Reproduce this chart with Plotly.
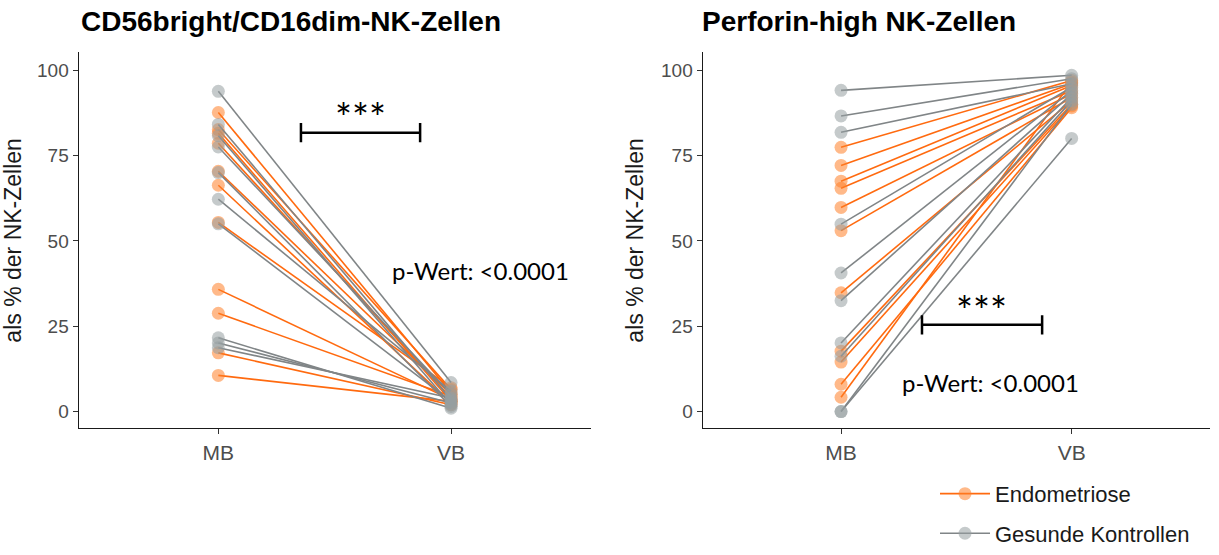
import plotly.graph_objects as go

# Paired measurements (MB -> VB), % of NK cells
categories = ["MB", "VB"]
group_names = ["Endometriose", "Gesunde Kontrollen"]

# CD56bright/CD16dim NK cells
cd56_endo_mb = [87.6, 82.6, 78.6, 70.4, 66.3, 55.4, 35.8, 28.8, 17.2, 10.6, 81.5]
cd56_endo_vb = [5.5, 6.5, 4.0, 5.0, 2.5, 7.0, 3.5, 4.5, 2.0, 3.0, 3.0]
cd56_ctrl_mb = [93.8, 84.1, 80.8, 77.5, 70.0, 62.2, 55.0, 21.6, 20.1, 18.7]
cd56_ctrl_vb = [8.5, 3.5, 2.0, 5.0, 1.5, 6.0, 3.0, 1.0, 2.5, 4.0]

# Perforin-high NK cells
perf_endo_mb = [77.4, 72.1, 67.5, 65.4, 59.8, 53.0, 34.8, 17.7, 14.5, 8.0, 4.2]
perf_endo_vb = [97.0, 96.0, 95.5, 94.0, 93.0, 92.0, 91.0, 90.0, 89.5, 89.0, 96.5]
perf_ctrl_mb = [94.1, 86.6, 81.8, 54.9, 40.6, 32.5, 20.1, 16.2, 0.0, 0.0]
perf_ctrl_vb = [98.5, 97.5, 96.0, 95.0, 94.0, 93.0, 92.0, 91.0, 80.0, 90.0]

y_ticks = [0, 25, 50, 75, 100]
panel_titles = ["CD56bright/CD16dim-NK-Zellen", "Perforin-high NK-Zellen"]
y_title = "als % der NK-Zellen"
sig_label = "***"
p_label = "p-Wert: <0.0001"

ORANGE_LINE = "#FF6A0F"
ORANGE_PT = "rgba(255,128,40,0.55)"
GRAY_LINE = "#808587"
GRAY_PT = "rgba(150,158,160,0.55)"


def paired(mb, vb):
    xs, ys = [], []
    for a, b in zip(mb, vb):
        xs += [1, 2, None]
        ys += [a, b, None]
    return xs, ys


fig = go.Figure()

panels = [
    ("x", "y", cd56_endo_mb, cd56_endo_vb, cd56_ctrl_mb, cd56_ctrl_vb, True),
    ("x2", "y2", perf_endo_mb, perf_endo_vb, perf_ctrl_mb, perf_ctrl_vb, False),
]
for xa, ya, emb, evb, cmb, cvb, show in panels:
    for name, mb, vb, lc, pc in [
        (group_names[0], emb, evb, ORANGE_LINE, ORANGE_PT),
        (group_names[1], cmb, cvb, GRAY_LINE, GRAY_PT),
    ]:
        xs, ys = paired(mb, vb)
        fig.add_trace(go.Scatter(
            x=xs, y=ys, xaxis=xa, yaxis=ya, mode="lines+markers",
            name=name, legendgroup=name, showlegend=show,
            line=dict(color=lc, width=1.6),
            marker=dict(color=pc, size=13, line=dict(width=0)),
            connectgaps=False, hoverinfo="skip",
        ))

FONT = "Liberation Sans, Arial"
xcommon = dict(range=[0.4, 2.6], tickvals=[1, 2], ticktext=categories,
               showline=True, linecolor="#1a1a1a", linewidth=1.3,
               ticks="outside", ticklen=5, tickcolor="#333333",
               tickfont=dict(family=FONT, size=21, color="#4D4D4D"),
               showgrid=False, zeroline=False, fixedrange=True)
ycommon = dict(range=[-4.9, 105.2], tickvals=y_ticks,
               showline=True, linecolor="#1a1a1a", linewidth=1.3,
               ticks="outside", ticklen=5, tickcolor="#333333",
               tickfont=dict(family=FONT, size=19, color="#4D4D4D"),
               showgrid=False, zeroline=False,
               title=dict(text=y_title, font=dict(family=FONT, size=23, color="#1a1a1a"),
                          standoff=10))

W, H = 1219, 555
fig.update_layout(
    width=W, height=H,
    margin=dict(l=0, r=0, t=0, b=0),
    paper_bgcolor="white", plot_bgcolor="white",
    xaxis=dict(domain=[78.7 / W, 590.7 / W], anchor="y", **xcommon),
    yaxis=dict(domain=[1 - 433 / H, 1 - 53 / H], anchor="x", **ycommon),
    xaxis2=dict(domain=[702.7 / W, 1210 / W], anchor="y2", **xcommon),
    yaxis2=dict(domain=[1 - 433 / H, 1 - 53 / H], anchor="x2", **ycommon),
    legend=dict(x=935 / W, y=1 - 478 / H, xanchor="left", yanchor="top",
                font=dict(family=FONT, size=22, color="#1a1a1a"),
                tracegroupgap=8, bgcolor="rgba(0,0,0,0)", itemwidth=50),
    showlegend=True,
)

# panel titles
for i, t in enumerate(panel_titles):
    x0 = [78.7, 700][i] / W
    fig.add_annotation(text=f"<b>{t}</b>", xref="paper", yref="paper", x=x0, y=1 - 22 / H,
                       xanchor="left", yanchor="middle", showarrow=False,
                       font=dict(family=FONT, size=28, color="black"))

# significance brackets and p-values
brackets = [
    ("x", "y", 1.355, 1.867, 81.7, 2.8, 1.61, 86.0, 2.125, 41.4),
    ("x2", "y2", 1.351, 1.872, 25.4, 2.8, 1.61, 29.4, 1.646, 8.6),
]
for xa, ya, bx0, bx1, by, bh, sx, sy, px, py in brackets:
    line = dict(color="black", width=2.5)
    fig.add_shape(type="line", xref=xa, yref=ya, x0=bx0, x1=bx1, y0=by, y1=by, line=line)
    fig.add_shape(type="line", xref=xa, yref=ya, x0=bx0, x1=bx0, y0=by - bh, y1=by + bh, line=line)
    fig.add_shape(type="line", xref=xa, yref=ya, x0=bx1, x1=bx1, y0=by - bh, y1=by + bh, line=line)
    fig.add_annotation(text=sig_label, xref=xa, yref=ya, x=sx, y=sy, showarrow=False,
                       xanchor="center", yanchor="middle",
                       font=dict(family="Lato, Open Sans", size=40, color="black"))
    fig.add_annotation(text=p_label, xref=xa, yref=ya, x=px, y=py, showarrow=False,
                       xanchor="center", yanchor="middle",
                       font=dict(family="Lato, Open Sans", size=24, color="black"))

fig.write_html("out.html")
